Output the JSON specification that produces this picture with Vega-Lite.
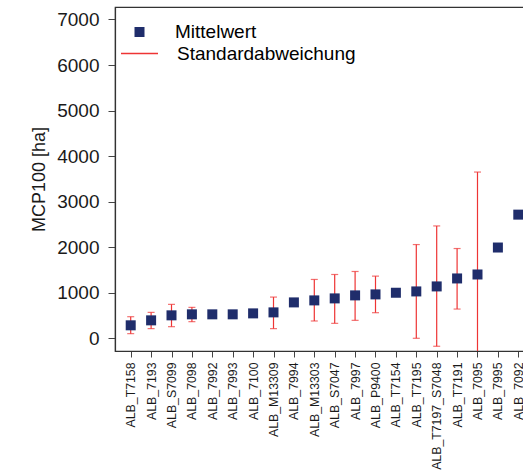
{
  "$schema": "https://vega.github.io/schema/vega-lite/v6.json",
  "autosize": {"type": "none"},
  "padding": {"left": 115, "top": 7, "right": 0, "bottom": 119},
  "width": 419,
  "height": 344,
  "config": {
    "font": "Liberation Sans",
    "view": {"stroke": "#333333", "strokeWidth": 1.2},
    "axis": {"domainColor": "#333333", "tickColor": "#444444", "labelColor": "#1a1a1a", "titleColor": "#1a1a1a", "grid": false}
  },
  "data": {"values": [
    {"cat": "ALB_T7158", "mean": 285, "lo": 102, "hi": 474},
    {"cat": "ALB_7193", "mean": 394, "lo": 212, "hi": 569},
    {"cat": "ALB_S7099", "mean": 504, "lo": 255, "hi": 745},
    {"cat": "ALB_7098", "mean": 526, "lo": 365, "hi": 679},
    {"cat": "ALB_7992", "mean": 526},
    {"cat": "ALB_7993", "mean": 526},
    {"cat": "ALB_7100", "mean": 547},
    {"cat": "ALB_M13309", "mean": 569, "lo": 212, "hi": 905},
    {"cat": "ALB_7994", "mean": 788},
    {"cat": "ALB_M13303", "mean": 832, "lo": 380, "hi": 1292},
    {"cat": "ALB_S7047", "mean": 876, "lo": 328, "hi": 1401},
    {"cat": "ALB_7997", "mean": 942, "lo": 394, "hi": 1467},
    {"cat": "ALB_P9400", "mean": 964, "lo": 562, "hi": 1365},
    {"cat": "ALB_T7154", "mean": 1000, "lo": 934, "hi": 1073},
    {"cat": "ALB_T7195", "mean": 1029, "lo": 0, "hi": 2058},
    {"cat": "ALB_T7197_S7048", "mean": 1139, "lo": -175, "hi": 2467},
    {"cat": "ALB_T7191", "mean": 1314, "lo": 642, "hi": 1971},
    {"cat": "ALB_7095", "mean": 1401, "lo": -848, "hi": 3650},
    {"cat": "ALB_7995", "mean": 1993},
    {"cat": "ALB_7092", "mean": 2715}
  ]},
  "encoding": {
    "x": {
      "field": "cat", "type": "nominal", "sort": null,
      "scale": {"type": "point", "padding": 0.77, "domain": ["ALB_T7158", "ALB_7193", "ALB_S7099", "ALB_7098", "ALB_7992", "ALB_7993", "ALB_7100", "ALB_M13309", "ALB_7994", "ALB_M13303", "ALB_S7047", "ALB_7997", "ALB_P9400", "ALB_T7154", "ALB_T7195", "ALB_T7197_S7048", "ALB_T7191", "ALB_7095", "ALB_7995", "ALB_7092"]},
      "axis": {"title": null, "labelAngle": -90, "labelFontSize": 12.3, "tickSize": 6, "labelPadding": 5, "domainWidth": 1.2, "labelLimit": 200}
    }
  },
  "layer": [
    {
      "transform": [{"filter": "datum.lo != null"}],
      "mark": {"type": "rule", "clip": true, "strokeWidth": 1.2},
      "encoding": {
        "y": {"field": "lo", "type": "quantitative"},
        "y2": {"field": "hi"},
        "color": {
          "datum": "Standardabweichung",
          "scale": {"domain": ["Standardabweichung"], "range": ["#EE3434"]},
          "legend": {
            "title": null, "orient": "none", "legendX": 5, "legendY": 27, "padding": 0,
            "labelFontSize": 19, "labelOffset": 18, "symbolSize": 1369, "labelLimit": 300
          }
        }
      }
    },
    {
      "transform": [{"filter": "datum.lo != null"}],
      "mark": {"type": "tick", "clip": true, "size": 7, "thickness": 1.2, "color": "#EE3434"},
      "encoding": {"y": {"field": "lo", "type": "quantitative"}}
    },
    {
      "transform": [{"filter": "datum.lo != null"}],
      "mark": {"type": "tick", "clip": true, "size": 7, "thickness": 1.2, "color": "#EE3434"},
      "encoding": {"y": {"field": "hi", "type": "quantitative"}}
    },
    {
      "mark": {"type": "point", "shape": "square", "filled": true, "size": 100, "opacity": 1, "clip": true},
      "encoding": {
        "y": {
          "field": "mean", "type": "quantitative",
          "scale": {"domain": [-279, 7274], "nice": false, "zero": false},
          "axis": {"title": "MCP100 [ha]", "titleFontSize": 18, "titleFontWeight": "normal", "titlePadding": 8, "values": [0, 1000, 2000, 3000, 4000, 5000, 6000, 7000], "format": "d", "labelFontSize": 19, "tickSize": 7, "labelPadding": 9, "domainWidth": 1.2}
        },
        "fill": {
          "datum": "Mittelwert",
          "scale": {"domain": ["Mittelwert"], "range": ["#1F2D6B"]},
          "legend": {
            "title": null, "orient": "none", "legendX": 15, "legendY": 15.5, "padding": 0,
            "labelFontSize": 19, "labelOffset": 26, "symbolSize": 100, "symbolType": "square", "labelLimit": 300
          }
        }
      }
    }
  ]
}
